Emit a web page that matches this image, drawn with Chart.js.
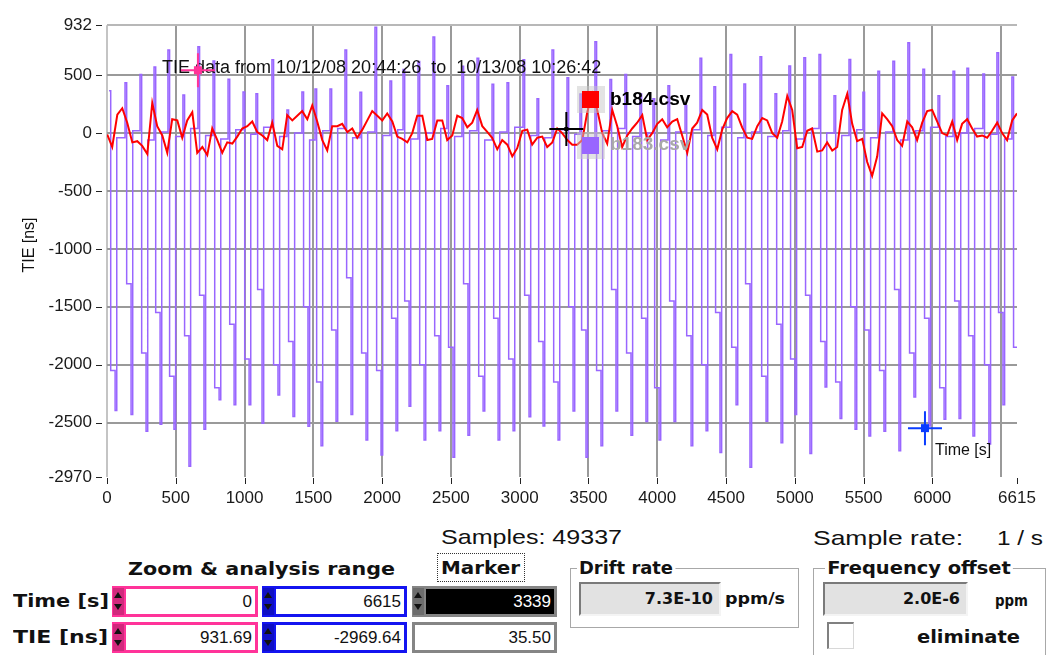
<!DOCTYPE html>
<html>
<head>
<meta charset="utf-8">
<script src="https://cdn.jsdelivr.net/npm/chart.js@4.4.1/dist/chart.umd.min.js"></script>
<style>
  html,body{margin:0;padding:0;background:#fff;}
  body{width:1056px;height:655px;position:relative;overflow:hidden;font-family:'Liberation Sans',Arial,sans-serif;color:#111;}
  #c{position:absolute;left:0;top:0;}
  .t{position:absolute;white-space:nowrap;line-height:1;transform-origin:left center;}
  .b{font-family:'DejaVu Sans',sans-serif;font-weight:bold;}
  .ctl{position:absolute;height:31px;box-sizing:border-box;}
  .pink{background:#ff3399;}
  .blue{background:#1414f0;}
  .gray{background:#858585;}
  .ctl .sp{position:absolute;left:1px;top:2px;width:11px;height:27px;background:rgba(0,0,0,.18);}
  .ctl .up{position:absolute;left:2px;top:6px;width:0;height:0;border-left:4px solid transparent;border-right:4px solid transparent;border-bottom:6px solid #111;}
  .ctl .dn{position:absolute;left:2px;top:18px;width:0;height:0;border-left:4px solid transparent;border-right:4px solid transparent;border-top:6px solid #111;}
  .fld{position:absolute;left:14px;top:3px;right:3px;bottom:3px;background:#fff;font:17px 'Liberation Sans',Arial,sans-serif;text-align:right;line-height:25px;padding-right:3px;box-sizing:border-box;}
  .fld.blk{background:#000;color:#fff;}
  .grp{position:absolute;border:1px solid #a8a8a8;box-shadow:1px 1px 0 #fff inset;box-sizing:border-box;}
  .val{position:absolute;height:34px;box-sizing:border-box;background:#e2e2e2;border-top:2px solid #7a7a7a;border-left:2px solid #7a7a7a;border-bottom:2px solid #f4f4f4;border-right:2px solid #f4f4f4;font:bold 16px 'DejaVu Sans',sans-serif;text-align:right;line-height:30px;padding-right:6px;}
</style>
</head>
<body>
<canvas id="c" width="1056" height="515"></canvas>

<div class="t fit" data-w="181" style="left:441px;top:526px;font-size:21px">Samples: 49337</div>
<div class="t fit" data-w="150" style="left:813px;top:527px;font-size:21px">Sample rate:</div>
<div class="t fit" data-w="46" style="left:997px;top:527px;font-size:21px">1 / s</div>

<div class="t b fit" data-w="267" style="left:128px;top:561px;font-size:17px">Zoom &amp; analysis range</div>
<div style="position:absolute;left:437px;top:553px;width:88px;height:29px;border:1px dotted #333;box-sizing:border-box"></div>
<div class="t b fit" data-w="79" style="left:441px;top:560px;font-size:17px">Marker</div>
<div class="t b fit" data-w="96" style="left:13px;top:592px;font-size:18px">Time [s]</div>
<div class="t b fit" data-w="95" style="left:13px;top:628px;font-size:18px">TIE [ns]</div>

<div class="ctl pink" style="left:112px;top:586px;width:146px"><i class="sp"></i><i class="up"></i><i class="dn"></i><div class="fld" id="tStart"></div></div>
<div class="ctl blue" style="left:262px;top:586px;width:145px"><i class="sp"></i><i class="up"></i><i class="dn"></i><div class="fld" id="tEnd"></div></div>
<div class="ctl gray" style="left:412px;top:586px;width:145px"><i class="sp"></i><i class="up"></i><i class="dn"></i><div class="fld blk" id="mTime"></div></div>
<div class="ctl pink" style="left:112px;top:622px;width:146px"><i class="sp"></i><i class="up"></i><i class="dn"></i><div class="fld" id="yStart"></div></div>
<div class="ctl blue" style="left:262px;top:622px;width:145px"><i class="sp"></i><i class="up"></i><i class="dn"></i><div class="fld" id="yEnd"></div></div>
<div class="ctl gray" style="left:412px;top:622px;width:145px"><div class="fld" id="mTIE" style="left:3px"></div></div>

<div class="grp" style="left:570px;top:568px;width:229px;height:60px"></div>
<div class="t b fit" data-w="98" style="left:577px;top:559px;font-size:18px;background:#fff;padding:0 2px">Drift rate</div>
<div class="val" id="drift" style="left:579px;top:582px;width:142px"></div>
<div class="t b fit" data-w="60" style="left:725px;top:591px;font-size:16px">ppm/s</div>

<div class="grp" style="left:813px;top:568px;width:233px;height:100px"></div>
<div class="t b fit" data-w="188" style="left:825px;top:559px;font-size:18px;background:#fff;padding:0 2px">Frequency offset</div>
<div class="val" id="freq" style="left:823px;top:582px;width:145px"></div>
<div class="t b fit" data-w="33" style="left:995px;top:593px;font-size:16px">ppm</div>
<div style="position:absolute;left:827px;top:622px;width:27px;height:27px;box-sizing:border-box;background:#fff;border-top:2px solid #808080;border-left:2px solid #808080;border-bottom:1px solid #d8d8d8;border-right:1px solid #d8d8d8"></div>
<div class="t b fit" data-w="103" style="left:917px;top:628px;font-size:18px">eliminate</div>

<script>
// --- axis ticks ---
const yTicks = [932, 500, 0, -500, -1000, -1500, -2000, -2500, -2970];
const xTicks = [0, 500, 1000, 1500, 2000, 2500, 3000, 3500, 4000, 4500, 5000, 5500, 6000, 6500, 6615];
const xTickLabels = ['0','500','1000','1500','2000','2500','3000','3500','4000','4500','5000','5500','6000','','6615'];

// --- b184.csv (red), time [s] / TIE [ns] ---
const b184Time = [
  2, 38, 75, 111, 147, 184, 220, 256, 293, 329,
  365, 402, 438, 474, 511, 547, 583, 620, 656, 693,
  729, 765, 802, 838, 874, 911, 947, 983, 1020, 1056,
  1092, 1129, 1165, 1201, 1238, 1274, 1310, 1347, 1383, 1419,
  1456, 1492, 1528, 1565, 1601, 1637, 1674, 1710, 1747, 1783,
  1819, 1856, 1892, 1928, 1965, 2001, 2037, 2074, 2110, 2146,
  2183, 2219, 2255, 2292, 2328, 2364, 2401, 2437, 2473, 2510,
  2546, 2582, 2619, 2655, 2691, 2728, 2764, 2800, 2837, 2873,
  2910, 2946, 2982, 3019, 3055, 3091, 3128, 3164, 3200, 3237,
  3273, 3309, 3346, 3382, 3418, 3455, 3491, 3527, 3564, 3600,
  3636, 3673, 3709, 3745, 3782, 3818, 3854, 3891, 3927, 3963,
  4000, 4036, 4072, 4109, 4145, 4181, 4218, 4254, 4290, 4327,
  4363, 4399, 4436, 4472, 4508, 4545, 4581, 4617, 4654, 4690,
  4727, 4763, 4799, 4836, 4872, 4908, 4945, 4981, 5017, 5054,
  5090, 5126, 5163, 5199, 5235, 5272, 5308, 5344, 5381, 5417,
  5453, 5490, 5526, 5562, 5599, 5635, 5671, 5708, 5744, 5780,
  5817, 5853, 5889, 5926, 5962, 5998, 6035, 6071, 6107, 6144,
  6180, 6216, 6253, 6289, 6325, 6362, 6398, 6434, 6471, 6507,
  6543, 6580, 6615
];
const b184TIE = [
  -12, -120, 160, 215, 90, -80, -70, -110, -180, 260,
  60, -20, -170, 120, 110, -40, 110, 180, -170, -120,
  -190, 40, -60, -170, -80, -90, -30, 40, 60, 100,
  10, -20, -60, 90, -110, -140, 155, 110, 150, 190,
  120, 240, 100, -60, -150, 60, 60, 80, 10, 40,
  -40, 30, 110, 190, 150, 110, 170, 100, -30, -50,
  -80, 0, 150, 150, -60, -50, 110, 110, -60, -20,
  150, 130, 50, 90, 200, 60, 10, -40, -140, -60,
  -100, -200, -130, 20, 30, -100, -40, -30, -120, -80,
  40, 0, -60, -100, -100, -60, 180, 340, 200, 0,
  -90, 200, 60, -120, -20, 40, 90, 155, -60, 0,
  80, 120, 50, 100, 120, -20, -170, 40, 90, 200,
  160, -40, -140, 30, 130, 190, 160, 50, -40, -50,
  60, 130, 110, 0, -40, 100, 320, 200, -130, -120,
  20, 40, -160, -150, -80, -150, -120, 200, 340, 80,
  -70, -50, -250, -370, -200, 170, 120, 60, -60, -110,
  100, 50, -60, 90, 190, 200, 100, 0, -20, 100,
  -60, 80, 120, 40, -30, -20, -40, 20, 90, 0,
  -60, 110, 170
];

// --- b183.csv (purple): one pulse per cycle ---
const b183PeakTime = [
  15, 131, 240, 342, 443, 552, 661, 771, 880, 989,
  1083, 1199, 1308, 1417, 1512, 1621, 1730, 1839, 1948, 2057,
  2152, 2261, 2370, 2471, 2580, 2690, 2799, 2908, 3024, 3126,
  3235, 3344, 3438, 3547, 3656, 3765, 3874, 3969, 4078, 4202,
  4311, 4412, 4529, 4630, 4747, 4856, 4957, 5066, 5176, 5285,
  5394, 5495, 5604, 5713, 5822, 5931, 6041, 6150, 6251, 6367,
  6469, 6578
];
const b183Peak = [
  366, 436, 507, 571, 718, 329, 746, 622, 465, 355,
  340, 633, 200, 355, 380, 380, 718, 352, 915, 450,
  549, 619, 830, 408, 577, 647, 422, 436, 633, 296,
  718, 479, 338, 788, 464, 507, 338, 296, 408, 239,
  647, 400, 680, 425, 660, 340, 580, 650, 680, 323,
  636, 352, 535, 620, 780, 552, 323, 535, 560, 510,
  695, 484
];
const b183Dip = [
  -2050, -1300, -1900, -1550, -2100, -1750, -1400, -2200, -1650, -1950,
  -1350, -2000, -1800, -1500, -2150, -1700, -1250, -1900, -2050, -1600,
  -1450, -2000, -1750, -1850, -1300, -2100, -1600, -1950, -1400, -1800,
  -2150, -1500, -1700, -2050, -1350, -1900, -1600, -2200, -1450, -1750,
  -2000, -1550, -1850, -1300, -2100, -1650, -1950, -1400, -1800, -2150,
  -1500, -1700, -2050, -1350, -1900, -1600, -2200, -1450, -1750, -2000,
  -1550, -1850
];
const b183Trough = [
  -2396, -2430, -2574, -2515, -2557, -2878, -2557, -2303, -2346, -2346,
  -2506, -2261, -2447, -2531, -2700, -2489, -2430, -2650, -2780, -2570,
  -2360, -2650, -2570, -2800, -2610, -2400, -2650, -2570, -2450, -2530,
  -2650, -2400, -2800, -2700, -2400, -2610, -2490, -2650, -2490, -2700,
  -2570, -2759, -2346, -2886, -2489, -2675, -2430, -2768, -2193, -2464,
  -2557, -2616, -2574, -2743, -2278, -2530, -2472, -2464, -2616, -2684,
  -2346, -2515
];
const b183Base = [
  -40, 20, -60, 10, -30, 40, -20, -50, 30, -10,
  50, -30, 0, -60, 20, 40, -40, 10, -20, 30,
  -50, 0, 40, -30, 20, -60, 10, 50, -20, -40,
  30, -10, -50, 20, 40, -30, 0, -60, 10, 30,
  -20, 50, -40, 10, -30, 20, -50, 40, 0, -20,
  30, -40, 10, -60, 20, 50, -30, 0, 40, -10,
  -50, 20
];
// pulse timing inside a cycle, seconds after the peak
const dipDelay = 12, troughDelay = 44, riseDelay = 56;

// cursors [time, TIE]
const zoomCursor = [661, 543];
const markerCursor = [3339, 35.5];
const endCursor = [5946, -2548];

// front panel values
const rangeTime = ['0', '6615'];
const rangeTIE = ['931.69', '-2969.64'];
const markerVals = ['3339', '35.50'];
const driftRate = '7.3E-10';
const freqOffset = '2.0E-6';

document.getElementById('tStart').textContent = rangeTime[0];
document.getElementById('tEnd').textContent = rangeTime[1];
document.getElementById('yStart').textContent = rangeTIE[0];
document.getElementById('yEnd').textContent = rangeTIE[1];
document.getElementById('mTime').textContent = markerVals[0];
document.getElementById('mTIE').textContent = markerVals[1];
document.getElementById('drift').textContent = driftRate;
document.getElementById('freq').textContent = freqOffset;

// squeeze panel labels to the widths of the LabVIEW font
document.querySelectorAll('.fit').forEach(el=>{
  const w = el.getBoundingClientRect().width;
  el.style.transform = 'scaleX(' + (el.dataset.w / w) + ')';
});

const b183Points = [];
b183PeakTime.forEach((t,i)=>{
  b183Points.push({x:t, y:b183Peak[i]});
  b183Points.push({x:t+dipDelay, y:b183Dip[i]});
  b183Points.push({x:t+troughDelay, y:b183Trough[i]});
  b183Points.push({x:t+riseDelay, y:b183Base[i]});
});
const b184Points = b184Time.map((t,i)=>({x:t, y:b184TIE[i]}));

function cross(ctx, px, py, color, sq){
  ctx.strokeStyle = color; ctx.fillStyle = color; ctx.lineWidth = 2;
  ctx.beginPath();
  ctx.moveTo(px-17, py); ctx.lineTo(px+17, py);
  ctx.moveTo(px, py-17); ctx.lineTo(px, py+17);
  ctx.stroke();
  ctx.fillRect(px-sq/2, py-sq/2, sq, sq);
}

const decor = {
  id:'decor',
  afterDatasetsDraw(chart){
    const {ctx, chartArea:a, scales:{x, y}} = chart;
    ctx.save();
    // tick marks, set off from the plot edge
    ctx.strokeStyle = '#222'; ctx.lineWidth = 1;
    y.ticks.forEach(t=>{
      const py = Math.round(y.getPixelForValue(t.value)) + 0.5;
      ctx.beginPath(); ctx.moveTo(a.left-11, py); ctx.lineTo(a.left-5, py); ctx.stroke();
    });
    x.ticks.forEach(t=>{
      if(!t.label) return;
      const px = Math.round(x.getPixelForValue(t.value)) + 0.5;
      ctx.beginPath(); ctx.moveTo(px, a.bottom+1); ctx.lineTo(px, a.bottom+7); ctx.stroke();
    });
    // y title
    ctx.fillStyle = '#111';
    ctx.font = '16px "Liberation Sans", Arial, sans-serif';
    ctx.translate(30, 245); ctx.rotate(-Math.PI/2);
    ctx.textAlign = 'center'; ctx.textBaseline = 'middle';
    ctx.fillText('TIE [ns]', 0, 0);
    ctx.setTransform(1,0,0,1,0,0);

    // title text inside plot
    ctx.textAlign = 'left';
    ctx.font = '18px "Liberation Sans", Arial, sans-serif';
    ctx.fillText('TIE data from 10/12/08 20:44:26  to  10/13/08 10:26:42', 162, 68);

    // cursors
    cross(ctx, x.getPixelForValue(zoomCursor[0]), y.getPixelForValue(zoomCursor[1]), '#ff3399', 8);
    cross(ctx, x.getPixelForValue(markerCursor[0]), y.getPixelForValue(markerCursor[1]), '#000', 4);
    const bx = x.getPixelForValue(endCursor[0]), by = y.getPixelForValue(endCursor[1]);
    cross(ctx, bx, by, '#0a3cff', 8);
    ctx.fillStyle = '#111';
    ctx.font = '16px "Liberation Sans", Arial, sans-serif';
    ctx.fillText('Time [s]', bx+10, by+22);

    // legend
    ctx.fillStyle = 'rgba(200,200,200,0.5)';
    ctx.fillRect(577, 86, 28, 27);
    ctx.fillRect(577, 132, 28, 27);
    ctx.fillStyle = '#ff0000'; ctx.fillRect(582, 91, 17, 17);
    ctx.fillStyle = '#9966ff'; ctx.fillRect(582, 137, 17, 17);
    ctx.font = 'bold 19px "Liberation Sans", Arial, sans-serif';
    ctx.fillStyle = '#000'; ctx.fillText('b184.csv', 610, 100);
    ctx.fillStyle = '#a9a9a9'; ctx.fillText('b183.csv', 610, 145);
    ctx.restore();
  }
};

Chart.defaults.font.family = '"Liberation Sans", Arial, sans-serif';
Chart.defaults.color = '#1a1a1a';

new Chart(document.getElementById('c'), {
  type:'line',
  data:{
    datasets:[
      {label:'b184.csv', data:b184Points, borderColor:'#ff0000', borderWidth:2, pointRadius:0, tension:0},
      {label:'b183.csv', data:b183Points, borderColor:'#9966ff', borderWidth:1.5, pointRadius:0, stepped:'before'}
    ]
  },
  options:{
    responsive:false, animation:false, events:[],
    layout:{padding:{top:15, right:39, left:0, bottom:0}},
    plugins:{legend:{display:false}, tooltip:{enabled:false}},
    scales:{
      x:{
        type:'linear', min:0, max:6615,
        afterFit(s){ s.height = 38; },
        afterBuildTicks(s){ s.ticks = xTicks.map(v=>({value:v})); },
        border:{display:false},
        grid:{drawTicks:false, lineWidth:2,
          color:c=> c.tick && c.tick.value===6615 ? 'rgba(0,0,0,0)' : (c.tick && c.tick.value===0 ? '#c4c4c4' : '#9a9a9a')},
        ticks:{autoSkip:false, maxRotation:0, padding:11, font:{size:17},
          callback:(v,i)=>xTickLabels[i]}
      },
      y:{
        type:'linear', min:-2970, max:932,
        afterFit(s){ s.width = 107; },
        afterBuildTicks(s){ s.ticks = yTicks.map(v=>({value:v})); },
        border:{display:false},
        grid:{drawTicks:false, lineWidth:2,
          color:c=> c.tick && c.tick.value===-2970 ? 'rgba(0,0,0,0)' : (c.tick && c.tick.value===932 ? '#b8b8b8' : '#9a9a9a')},
        ticks:{autoSkip:false, padding:15, font:{size:17},
          callback:(v,i)=>String(yTicks[i])}
      }
    }
  },
  plugins:[decor]
});
</script>
</body>
</html>
